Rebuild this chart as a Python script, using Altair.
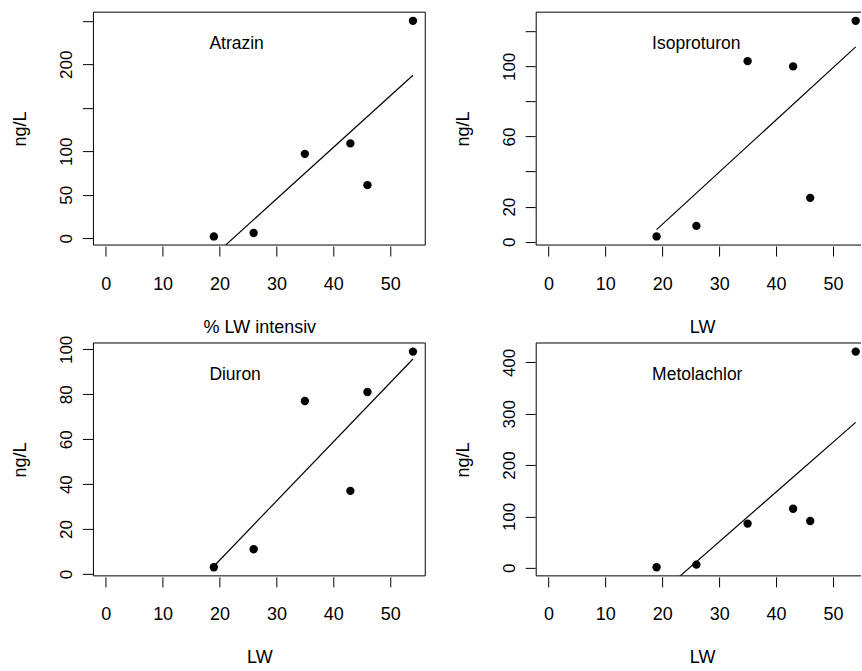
import altair as alt
import pandas as pd

# ---- data ----
x_lw = [19, 26, 35, 43, 46, 54]
atrazin = [2, 6, 97, 109, 61, 250]
isoproturon = [3, 9, 103, 100, 25, 126]
diuron = [3, 11, 77, 37, 81, 99]
metolachlor = [1, 6, 86, 115, 91, 421]

series = [atrazin, isoproturon, diuron, metolachlor]
names = ["Atrazin", "Isoproturon", "Diuron", "Metolachlor"]
x_titles = ["% LW intensiv", "LW", "LW", "LW"]
y_title = "ng/L"
x_limits = [0, 54]
x_ticks = [0, 10, 20, 30, 40, 50]
y_ticks = [
    [0, 50, 100, 150, 200, 250],
    [0, 20, 40, 60, 80, 100, 120],
    [0, 20, 40, 60, 80, 100],
    [0, 100, 200, 300, 400],
]
y_labels_shown = [
    [0, 50, 100, 200],
    [0, 20, 60, 100],
    [0, 20, 40, 60, 80, 100],
    [0, 100, 200, 300, 400],
]

FONT = "Liberation Sans, Arial, Helvetica, sans-serif"
FULL_W = 332      # plot width of a full panel
CUT_W = 325       # right column is cut by the picture edge
H = 233


def panel(i, width):
    yvals = series[i]
    df = pd.DataFrame({"LW": x_lw, "ng": yvals})
    lo, hi = min(yvals), max(yvals)
    r = hi - lo
    ydom = [lo - 0.04 * r, hi + 0.04 * r]
    xr = x_limits[1] - x_limits[0]
    x0 = x_limits[0] - 0.04 * xr
    x1 = x_limits[1] + 0.04 * xr
    x1 = x0 + (x1 - x0) * width / FULL_W
    shown = ",".join(str(v) for v in y_labels_shown[i])
    xenc = alt.X(
        "LW:Q",
        scale=alt.Scale(domain=[x0, x1], nice=False, zero=False),
        axis=alt.Axis(values=x_ticks, tickCount=len(x_ticks), title=x_titles[i],
                      titleX=FULL_W / 2),
    )
    yenc = alt.Y(
        "ng:Q",
        scale=alt.Scale(domain=ydom, nice=False, zero=False),
        axis=alt.Axis(
            values=y_ticks[i],
            tickCount=len(y_ticks[i]),
            title=y_title,
            labelExpr=f"indexof([{shown}], datum.value) >= 0 ? datum.label : ''",
        ),
    )
    base = alt.Chart(df)
    pts = base.mark_circle(size=70, color="black", opacity=1, clip=True).encode(x=xenc, y=yenc)
    fit = (
        base.transform_regression("LW", "ng", method="linear")
        .mark_line(color="black", strokeWidth=1.2, clip=True)
        .encode(x="LW:Q", y="ng:Q")
    )
    one = pd.DataFrame({"name": [names[i]]})
    label = alt.Chart(one).mark_text(
        align="left", baseline="alphabetic", font=FONT, fontSize=17.5, color="black"
    ).encode(x=alt.value(116), y=alt.value(36.6), text="name:N")
    rule = alt.Chart(one).mark_rule(color="black", strokeWidth=1)
    edges = [
        rule.encode(x=alt.value(0), x2=alt.value(width), y=alt.value(0)),
        rule.encode(x=alt.value(0), x2=alt.value(width), y=alt.value(H)),
        rule.encode(x=alt.value(0), y=alt.value(0), y2=alt.value(H)),
    ]
    if width == FULL_W:
        edges.append(rule.encode(x=alt.value(width), y=alt.value(0), y2=alt.value(H)))
    return alt.layer(pts, fit, label, *edges).properties(width=width, height=H)


chart = (
    alt.concat(
        panel(0, FULL_W), panel(1, CUT_W), panel(2, FULL_W), panel(3, CUT_W),
        columns=2,
        spacing={"row": 98, "column": 111},
        bounds="flush",
    )
    .properties(padding={"left": 11.5, "top": 11, "right": 0, "bottom": 0}, background="white")
    .configure_view(stroke=None)
    .configure_axis(
        domain=False, grid=False, tickColor="black", tickWidth=1, tickSize=10, offset=1,
        labelFont=FONT, titleFont=FONT, labelColor="black", titleColor="black",
        titleFontWeight="normal", labelFontSize=18, titleFontSize=18,
        labelFlush=False, labelOverlap=False,
    )
    .configure_axisX(labelPadding=19, titlePadding=25, labelAngle=0)
    .configure_axisY(labelAngle=270, labelAlign="center", labelBaseline="bottom",
                     labelFontSize=17, labelPadding=7, titlePadding=28)
)

chart.save("out.html", embed_options={"renderer": "svg", "actions": False})
